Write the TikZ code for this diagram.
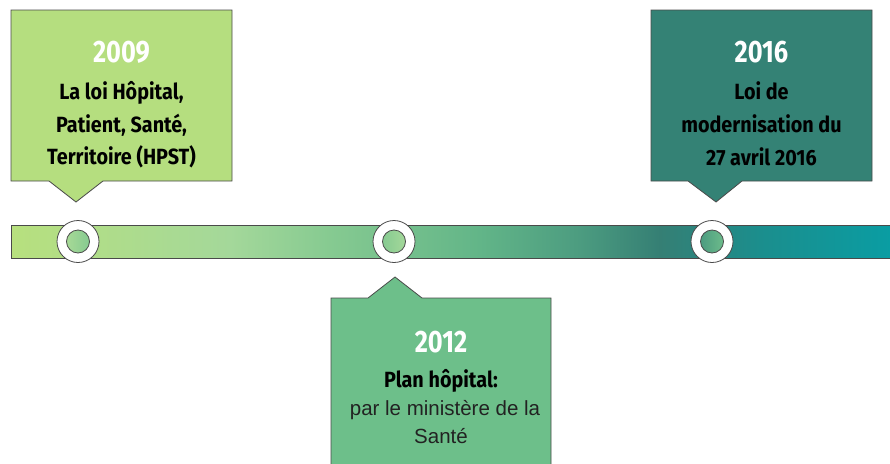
\documentclass[tikz,border=0pt]{standalone}
\usepackage{fontspec}
\setmainfont{Liberation Sans}
\newfontfamily\firacond[FakeStretch=0.82]{Fira Sans}
\newfontfamily\firabody[FakeStretch=0.9]{Fira Sans}
\definecolor{boxA}{HTML}{B5DE7F}
\definecolor{boxB}{HTML}{6DBF8A}
\definecolor{boxC}{HTML}{348275}
\definecolor{edgec}{HTML}{4A4A4A}
\definecolor{bA}{HTML}{B7E07E}
\definecolor{bB}{HTML}{A4D89A}
\definecolor{bC}{HTML}{86CA91}
\definecolor{bD}{HTML}{62B588}
\definecolor{bE}{HTML}{4C9C80}
\definecolor{bF}{HTML}{357F74}
\definecolor{bG}{HTML}{1B8E8D}
\definecolor{bH}{HTML}{0A9DA3}
\definecolor{txtgray}{HTML}{222222}
\tikzset{
  callout/.style={draw=edgec, line width=0.8pt},
  yearlbl/.style={anchor=base, text=white, font=\firacond\bfseries\fontsize{31}{31}\selectfont, inner sep=0pt},
  boldlbl/.style={anchor=base, text=black, font=\firabody\bfseries\fontsize{22}{22}\selectfont, inner sep=0pt},
  plainlbl/.style={anchor=base, text=txtgray, font=\fontsize{20.5}{20.5}\selectfont, inner sep=0pt},
  ring/.style={circle, draw=edgec, line width=0.8pt, fill=white, minimum size=42pt, inner sep=0pt},
  dot/.style={circle, draw=edgec, line width=0.8pt, minimum size=23pt, inner sep=0pt}
}
\begin{document}
\begin{tikzpicture}[x=1pt,y=-1pt]
\useasboundingbox (0,0) rectangle (890,463);
\begin{scope}
\clip (0,0) rectangle (890,463);
% bar
\fill[left color=bA,right color=bB] (11,225) rectangle (230,258);
\fill[left color=bB,right color=bC] (229.5,225) rectangle (330,258);
\fill[left color=bC,right color=bD] (329.5,225) rectangle (480,258);
\fill[left color=bD,right color=bE] (479.5,225) rectangle (580,258);
\fill[left color=bE,right color=bF] (579.5,225) rectangle (660,258);
\fill[left color=bF,right color=bG] (659.5,225) rectangle (760,258);
\fill[left color=bG,right color=bH] (759.5,225) rectangle (891,258);
\draw[edgec, line width=0.8pt] (892,225) -- (11,225) -- (11,258) -- (892,258);
% callout boxes
\draw[callout, fill=boxA] (11,10) -- (232,10) -- (232,181) -- (103,181) -- (76,202) -- (49,181) -- (11,181) -- cycle;
\draw[callout, fill=boxC] (651,10) -- (872,10) -- (872,181) -- (742,181) -- (716,202) -- (688,181) -- (651,181) -- cycle;
\draw[callout, fill=boxB] (331,470) -- (331,298) -- (368,298) -- (395,277) -- (422,298) -- (551,298) -- (551,470) -- cycle;
% circles
\node[ring] (r1) at (78,241.5) {};
\node[dot, left color=bB!85!bA, right color=bC] (d1) at (r1) {};
\node[ring] (r2) at (394,241.5) {};
\node[dot, left color=bC, right color=bB] (d2) at (r2) {};
\node[ring] (r3) at (712,241.5) {};
\node[dot, left color=bE, right color=bD!70!bC] (d3) at (r3) {};
% texts box 1
\node[yearlbl] (y1) at (121.5,62) {2009};
\node[boldlbl] (a1) at (121.5,99) {La loi Hôpital,};
\node[boldlbl] (b1) at (121.5,132) {Patient, Santé,};
\node[boldlbl] (c1) at (121.5,164) {Territoire (HPST)};
% texts box 3
\node[yearlbl] (y3) at (761.5,62) {2016};
\node[boldlbl] (a3) at (761.5,99) {Loi de};
\node[boldlbl] (b3) at (761.5,132) {modernisation du};
\node[boldlbl] (c3) at (761.5,165) {27 avril 2016};
% texts box 2
\node[yearlbl] (y2) at (441,352) {2012};
\node[boldlbl] (a2) at (441,387) {Plan hôpital:};
\node[plainlbl] (b2) at (445,415) {par le ministère de la};
\node[plainlbl] (c2) at (441,443) {Santé};
\end{scope}
\end{tikzpicture}
\end{document}
